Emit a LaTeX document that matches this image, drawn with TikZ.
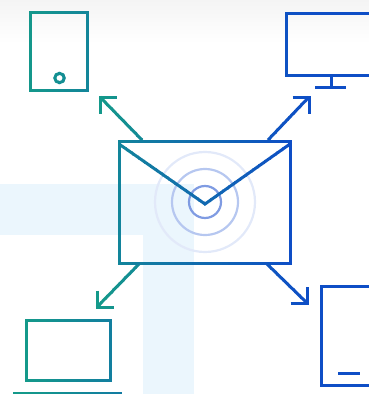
\documentclass[tikz,border=0pt]{standalone}
\usetikzlibrary{calc}
\definecolor{gTeal}{HTML}{14998A}
\definecolor{gBlue}{HTML}{0E4EC6}
\definecolor{bandBlue}{HTML}{EBF6FD}
\definecolor{ringA}{HTML}{7F9BE2}
\definecolor{ringB}{HTML}{B6C7F0}
\definecolor{ringC}{HTML}{E2E9F9}
\definecolor{topGrey}{HTML}{F4F4F4}
\tikzset{
  art/.style={line width=3pt,line join=miter,line cap=butt},
  ring/.style={line width=2.2pt},
  band/.style={fill=bandBlue,draw=none},
}
% #1 x where the blend is #2 percent, #3 percent per unit, #4 first slice, #5 next slice, #6 last slice, #7 drawing
\newcommand{\gradslices}[7]{%
  \foreach \i in {#4,#5,...,#6}{
    \pgfmathsetmacro{\p}{min(100,max(0,#2+(\i+3-#1)*#3))}
    \begin{scope}
      \clip (\i,0) rectangle (\i+7,394);
      \colorlet{strokeNow}{gBlue!\p!gTeal}
      \begin{scope}[color=strokeNow]
        #7
      \end{scope}
    \end{scope}
  }%
}
\newcommand{\leftdevices}{%
  \draw[art] (30,12) rectangle (87,90);
  \draw[art] (tabDot) circle (4.7);
  \draw[art] (26,320) rectangle (110,380);
  \draw[art] (13,393.8) -- (122,393.8);
}
\newcommand{\leftarrows}{%
  \draw[art] (142,140) -- (tlTip);
  \draw[art] ($(tlTip)+(16.5,0)$) -- (tlTip) -- ($(tlTip)+(0,16.5)$);
  \draw[art] (139,264) -- (blTip);
  \draw[art] ($(blTip)+(0,-16.5)$) -- (blTip) -- ($(blTip)+(16.5,0)$);
}
\newcommand{\envelope}{%
  \draw[art] (envNW) rectangle (envSE);
  \draw[art] (119,144) -- (flap) -- (290,144);
}
\newcommand{\rightart}{%
  \draw[art] (286,13) rectangle (375,75);
  \draw[art] (331,75) -- (331,87);
  \draw[art] (315,87) -- (346,87);
  \draw[art] (321,286) rectangle (375,385);
  \draw[art] (338,373) -- (360,373);
  \draw[art] (268,140) -- (trTip);
  \draw[art] ($(trTip)+(-16.5,0)$) -- (trTip) -- ($(trTip)+(0,16.5)$);
  \draw[art] (267,264) -- (brTip);
  \draw[art] ($(brTip)+(-16.5,0)$) -- (brTip) -- ($(brTip)+(0,-16.5)$);
}
\begin{document}
\begin{tikzpicture}[x=1pt,y=-1pt]
  \useasboundingbox (0,0) rectangle (369,394);
  \clip (0,0) rectangle (369,394);
  \shade[top color=topGrey,bottom color=white] (0,0) rectangle (369,43);
  % pale T-shaped band
  \fill[band] (0,184) rectangle (194,235);
  \fill[band] (143,184) rectangle (194,394);
  % rings
  \coordinate (ringC) at (205,202);
  \draw[ring,ringC] (ringC) circle (50);
  \draw[ring,ringB] (ringC) circle (33);
  \draw[ring,ringA] (ringC) circle (16);
  % named anchors
  \coordinate (tabDot) at (59.5,78);
  \coordinate (envNW) at (119.5,141);
  \coordinate (envSE) at (290,263);
  \coordinate (flap) at (205,204);
  \coordinate (tlTip) at (100,97);
  \coordinate (trTip) at (309,97);
  \coordinate (blTip) at (97,307);
  \coordinate (brTip) at (307,303);
  % line art, each group with its own left-to-right colour gradient
  \gradslices{26}{0}{0.42}{10}{16}{124}{\leftdevices}
  \gradslices{100}{0}{0.5}{94}{100}{148}{\leftarrows}
  \gradslices{119}{28}{0.42}{114}{120}{294}{\envelope}
  \gradslices{268}{90}{0.25}{264}{270}{369}{\rightart}
\end{tikzpicture}
\end{document}
